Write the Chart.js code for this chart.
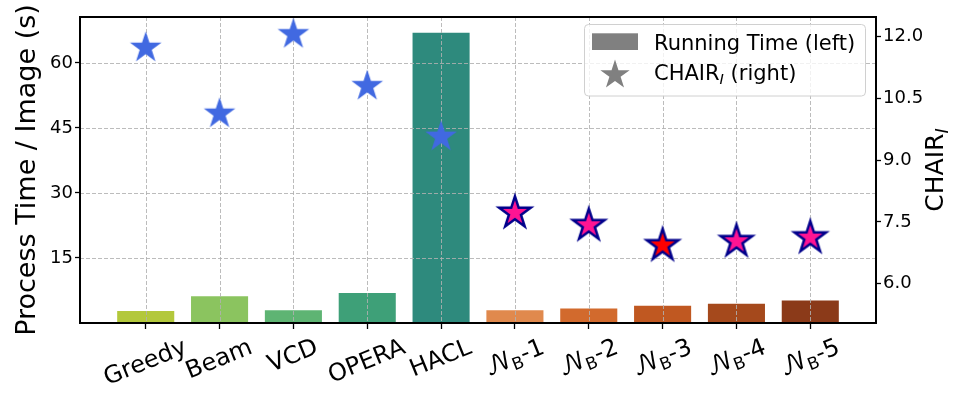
<!DOCTYPE html>
<html lang="en">
<head>
<meta charset="UTF-8">
<title>Running Time vs CHAIR_I</title>
<script src="https://cdn.jsdelivr.net/npm/chart.js"></script>
<style>
  html, body { margin: 0; padding: 0; background: #fff; }
</style>
</head>
<body>
<canvas id="chart" width="966" height="405"></canvas>

<script>
// data
const methods = ['Greedy', 'Beam', 'VCD', 'OPERA', 'HACL', 'NB-1', 'NB-2', 'NB-3', 'NB-4', 'NB-5'];
const runTime = [3.0, 6.4, 3.2, 7.15, 67.2, 3.2, 3.6, 4.2, 4.7, 5.4];   // s / image (left axis)
const chairI = [11.73, 10.13, 12.06, 10.80, 9.57, 7.72, 7.42, 6.93, 7.03, 7.12]; // right axis
const leftTicks = [15, 30, 45, 60];
const rightTicks = [6.0, 7.5, 9.0, 10.5, 12.0];

// styles
const barColors = ['#b3c83b', '#8bc45f', '#5eb473', '#3ea078', '#2e8a7d',
                   '#e0894d', '#d26a2d', '#c05821', '#a5491c', '#8b3a19'];
const starFill = ['#4169e1', '#4169e1', '#4169e1', '#4169e1', '#4169e1',
                  '#ff1493', '#ff1493', '#ff0000', '#ff1493', '#ff1493'];
const FONT = '"DejaVu Sans", "DejaVu Math TeX Gyre", sans-serif';

function starPath(g, cx, cy, r) {
    g.beginPath();
    for (let k = 0; k < 10; k++) {
        const rad = k % 2 ? r * 0.381966 : r;
        const a = -Math.PI / 2 + k * Math.PI / 5;
        const px = cx + rad * Math.cos(a), py = cy + rad * Math.sin(a);
        if (k) g.lineTo(px, py); else g.moveTo(px, py);
    }
    g.closePath();
}

function starImage(fill, edge) {
    const size = 46;
    const c = document.createElement('canvas');
    c.width = c.height = size;
    const g = c.getContext('2d');
    starPath(g, size / 2, size / 2, 16.6);
    g.fillStyle = fill;
    g.fill();
    if (edge) {
        g.lineWidth = 2.5;
        g.lineJoin = 'miter';
        g.strokeStyle = edge;
        g.stroke();
    }
    return c;
}
const starImgs = starFill.map((f, i) => starImage(f, i >= 5 ? '#00008b' : null));

// text made of runs (for the subscripts)
function runsWidth(g, runs) {
    let w = 0;
    runs.forEach(r => { g.font = (r.italic ? 'italic ' : '') + r.size + 'px ' + FONT; w += g.measureText(r.t).width; });
    return w;
}
function drawRuns(g, runs, x, y) {
    runs.forEach(r => {
        g.font = (r.italic ? 'italic ' : '') + r.size + 'px ' + FONT;
        g.fillText(r.t, x, y + (r.dy || 0));
        x += g.measureText(r.t).width;
    });
}
function labelRuns(m, size) {
    if (m.startsWith('NB')) {
        return [{ t: '\u{1D4A9}', size: size }, { t: 'B', size: size * 0.7, dy: size * 0.2 }, { t: m.slice(2), size: size }];
    }
    return [{ t: m, size: size }];
}

const decor = {
    id: 'decor',
    beforeDatasetDraw(chart, args) {
        if (args.index !== 1) return;
        const { ctx, chartArea: a, scales } = chart;
        ctx.save();
        ctx.strokeStyle = 'rgba(176,176,176,0.85)';
        ctx.lineWidth = 1;
        ctx.setLineDash([4, 2]);
        ctx.beginPath();
        methods.forEach((m, i) => {
            const px = Math.round(scales.x.getPixelForValue(i)) + 0.5;
            ctx.moveTo(px, a.top); ctx.lineTo(px, a.bottom);
        });
        leftTicks.forEach(v => {
            const py = Math.round(scales.y.getPixelForValue(v)) + 0.5;
            ctx.moveTo(a.left, py); ctx.lineTo(a.right, py);
        });
        ctx.stroke();
        ctx.restore();
    },
    afterDatasetsDraw(chart) {
        const { ctx, chartArea: a } = chart;
        ctx.save();
        ctx.strokeStyle = '#000';
        ctx.lineWidth = 2;
        ctx.strokeRect(a.left, a.top, a.right - a.left, a.bottom - a.top);
        ctx.restore();
    },
    afterDraw(chart) {
        const { ctx, chartArea: a, scales } = chart;
        ctx.save();
        ctx.fillStyle = '#000';
        ctx.textAlign = 'left';
        ctx.textBaseline = 'alphabetic';

        // rotated category labels, centred under each tick
        const fs = 24, th = 22 * Math.PI / 180;
        methods.forEach((m, i) => {
            const runs = labelRuns(m, fs);
            const w = runsWidth(ctx, runs);
            const H = w * Math.sin(th) + fs * 1.17 * Math.cos(th);
            ctx.save();
            ctx.translate(scales.x.getPixelForValue(i) - 1, a.bottom + 9 + H / 2);
            ctx.rotate(-th);
            drawRuns(ctx, runs, -w / 2, fs * 0.345);
            ctx.restore();
        });

        // left axis title
        ctx.save();
        ctx.translate(35, (a.top + a.bottom) / 2);
        ctx.rotate(-Math.PI / 2);
        ctx.textAlign = 'center';
        ctx.font = '27px ' + FONT;
        ctx.fillText('Process Time / Image (s)', 0, 0);
        ctx.restore();

        // right axis title
        const rt = [{ t: 'CHAIR', size: 25 }, { t: 'I', size: 17.5, dy: 5, italic: true }];
        ctx.save();
        ctx.translate(943, (a.top + a.bottom) / 2);
        ctx.rotate(-Math.PI / 2);
        drawRuns(ctx, rt, -runsWidth(ctx, rt) / 2, 0);
        ctx.restore();

        // legend
        ctx.save();
        ctx.beginPath();
        ctx.roundRect(584.5, 24.5, 281, 71.5, 4);
        ctx.fillStyle = 'rgba(255,255,255,0.8)';
        ctx.fill();
        ctx.strokeStyle = '#d0d0d0';
        ctx.lineWidth = 1;
        ctx.stroke();
        ctx.fillStyle = '#808080';
        ctx.fillRect(592, 33.3, 46, 16.7);
        starPath(ctx, 615, 75, 15.4);
        ctx.fill();
        ctx.fillStyle = '#000';
        drawRuns(ctx, [{ t: 'Running Time (left)', size: 21 }], 654, 49.5);
        drawRuns(ctx, [{ t: 'CHAIR', size: 21 }, { t: 'I', size: 14.7, dy: 4, italic: true }, { t: ' (right)', size: 21 }], 654, 80);
        ctx.restore();

        ctx.restore();
    }
};

const tickFont = { family: FONT, size: 18 };

new Chart(document.getElementById('chart').getContext('2d'), {
    data: {
        datasets: [{
            type: 'bar',
            data: runTime.map((v, i) => ({ x: i, y: v })),
            backgroundColor: barColors,
            borderColor: 'rgba(255,255,255,0.6)',
            borderWidth: 1,
            categoryPercentage: 0.8,
            barPercentage: 1.0,
            yAxisID: 'y',
            order: 2
        }, {
            type: 'line',
            data: chairI.map((v, i) => ({ x: i, y: v })),
            showLine: false,
            pointStyle: c => starImgs[c.dataIndex],
            pointRadius: 16,
            yAxisID: 'y1',
            order: 1
        }]
    },
    options: {
        responsive: false,
        animation: false,
        layout: { padding: { top: 14, left: 0, right: 0, bottom: 0 } },
        plugins: { legend: { display: false }, tooltip: { enabled: false } },
        scales: {
            x: {
                type: 'linear',
                offset: false,
                min: -0.89,
                max: 9.89,
                afterBuildTicks: s => { s.ticks = methods.map((m, i) => ({ value: i })); },
                ticks: { display: false },
                grid: { offset: false, drawOnChartArea: false, tickLength: 6, tickColor: '#000', tickWidth: 1.3 },
                border: { display: false },
                afterFit: s => { s.height = 82; }
            },
            y: {
                position: 'left',
                min: 0,
                max: 70.6,
                afterBuildTicks: s => { s.ticks = leftTicks.map(v => ({ value: v })); },
                ticks: { font: tickFont, color: '#000', padding: 2, callback: v => String(v) },
                grid: { drawOnChartArea: false, tickLength: 5, tickColor: '#000', tickWidth: 1.3 },
                border: { display: false },
                afterFit: s => { s.width = 80; }
            },
            y1: {
                position: 'right',
                min: 5.045,
                max: 12.48,
                afterBuildTicks: s => { s.ticks = rightTicks.map(v => ({ value: v })); },
                ticks: { font: tickFont, color: '#000', padding: 2, callback: v => v.toFixed(1) },
                grid: { drawOnChartArea: false, tickLength: 5, tickColor: '#000', tickWidth: 1.3 },
                border: { display: false },
                afterFit: s => { s.width = 90; }
            }
        }
    },
    plugins: [decor]
});
</script>
</body>
</html>
